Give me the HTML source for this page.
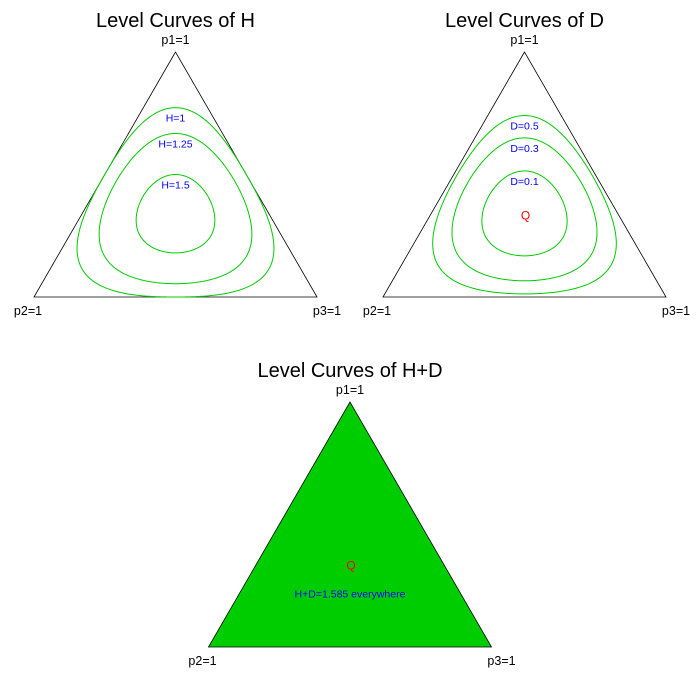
<!DOCTYPE html>
<html><head><meta charset="utf-8"><style>
body{margin:0;background:#fff}
svg{display:block;font-family:"Liberation Sans",sans-serif}
</style></head><body>
<svg id="chart" width="700" height="700" viewBox="0 0 700 700"></svg>
<script>
const hLevels = [1, 1.25, 1.5];
const hLabels = ["H=1", "H=1.25", "H=1.5"];
const dLevels = [0.5, 0.3, 0.1];
const dLabels = ["D=0.5", "D=0.3", "D=0.1"];
const vertexLabels = ["p1=1", "p2=1", "p3=1"];
const titles = ["Level Curves of H", "Level Curves of D", "Level Curves of H+D"];
const hdText = "H+D=1.585 everywhere";

const NS = "http://www.w3.org/2000/svg";
const svg = document.getElementById("chart");
function mk(tag, attrs, parent) {
  const e = document.createElementNS(NS, tag);
  for (const k in attrs) e.setAttribute(k, attrs[k]);
  (parent || svg).appendChild(e);
  return e;
}
function H(p) { let s = 0; for (const v of p) if (v > 1e-12) s -= v * Math.log2(v); return s; }
const LOG3 = Math.log2(3);

function panel(ox, oy, name) {
  const T = [ox, oy], L = [ox - 141.5, oy + 245], R = [ox + 141.5, oy + 245];
  const toXY = p => [p[0]*T[0] + p[1]*L[0] + p[2]*R[0], p[0]*T[1] + p[1]*L[1] + p[2]*R[1]];
  return { T, L, R, toXY, name };
}

function contour(level) {
  const pts = [];
  const c = [1/3, 1/3, 1/3];
  const u = [2/3, -1/3, -1/3], v = [0, 1/Math.sqrt(3), -1/Math.sqrt(3)];
  for (let i = 0; i <= 360; i++) {
    const a = i / 360 * 2 * Math.PI;
    const dir = [Math.cos(a)*u[0] + Math.sin(a)*v[0], Math.cos(a)*u[1] + Math.sin(a)*v[1], Math.cos(a)*u[2] + Math.sin(a)*v[2]];
    let tmax = Infinity;
    for (let k = 0; k < 3; k++) if (dir[k] < 0) tmax = Math.min(tmax, -c[k] / dir[k]);
    const at = t => [c[0]+t*dir[0], c[1]+t*dir[1], c[2]+t*dir[2]];
    let lo = 0, hi = tmax;
    if (H(at(hi)) >= level) { pts.push(at(hi)); continue; }
    for (let it = 0; it < 50; it++) { const m = (lo + hi) / 2; if (H(at(m)) > level) lo = m; else hi = m; }
    pts.push(at(lo));
  }
  return pts;
}

function drawTriangle(P, fill) {
  mk("polygon", { points: [P.T, P.L, P.R].map(p => p.join(",")).join(" "), fill: fill || "none", stroke: "#000", "stroke-width": 0.8,  });
  const lab = [[P.T[0], P.T[1] - 8], [P.L[0] - 6, P.L[1] + 18], [P.R[0] + 10, P.R[1] + 18]];
  lab.forEach((l, i) => {
    const t = mk("text", { x: l[0], y: l[1], "text-anchor": "middle", "font-size": 12.5, fill: "#000",  });
    t.textContent = vertexLabels[i];
  });
}
function drawTitle(x, y, s, name) {
  const t = mk("text", { x, y, "text-anchor": "middle", "font-size": 20, fill: "#000",  });
  t.textContent = s;
}
function drawCurves(P, levels, labels, toH, prefix) {
  levels.forEach((lv, i) => {
    const pts = contour(toH(lv)).map(P.toXY);
    mk("path", { d: "M" + pts.map(p => p[0].toFixed(2) + "," + p[1].toFixed(2)).join("L") + "Z", fill: "none", stroke: "#00CD00", "stroke-width": 1,  });
    let top = pts.reduce((a, b) => b[1] < a[1] ? b : a);
    const t = mk("text", { x: P.T[0], y: top[1] + 14, "text-anchor": "middle", "font-size": 10.5, fill: "#0000FF",  });
    t.textContent = labels[i];
  });
}

const P1 = panel(175.5, 52, "h-panel");
drawTitle(175.5, 27, titles[0], "h-title");
drawTriangle(P1);
drawCurves(P1, hLevels, hLabels, v => v, "h");

const P2 = panel(524.5, 52, "d-panel");
drawTitle(524.5, 27, titles[1], "d-title");
drawTriangle(P2);
drawCurves(P2, dLevels, dLabels, v => LOG3 - v, "d");
let q = P2.toXY([1/3,1/3,1/3]);
let qt = mk("text", { x: q[0]+1, y: q[1]+4, "text-anchor": "middle", "font-size": 12, fill: "#FF0000",  });
qt.textContent = "Q";

const P3 = panel(350, 402, "hd-panel");
drawTitle(350, 377, titles[2], "hd-title");
drawTriangle(P3, "#00CD00");
q = P3.toXY([1/3,1/3,1/3]);
qt = mk("text", { x: q[0]+1, y: q[1]+4, "text-anchor": "middle", "font-size": 12, fill: "#FF0000",  });
qt.textContent = "Q";
const ht = mk("text", { x: q[0], y: q[1] + 32, "text-anchor": "middle", "font-size": 10.5, fill: "#0000FF",  });
ht.textContent = hdText;
</script>
</body></html>
